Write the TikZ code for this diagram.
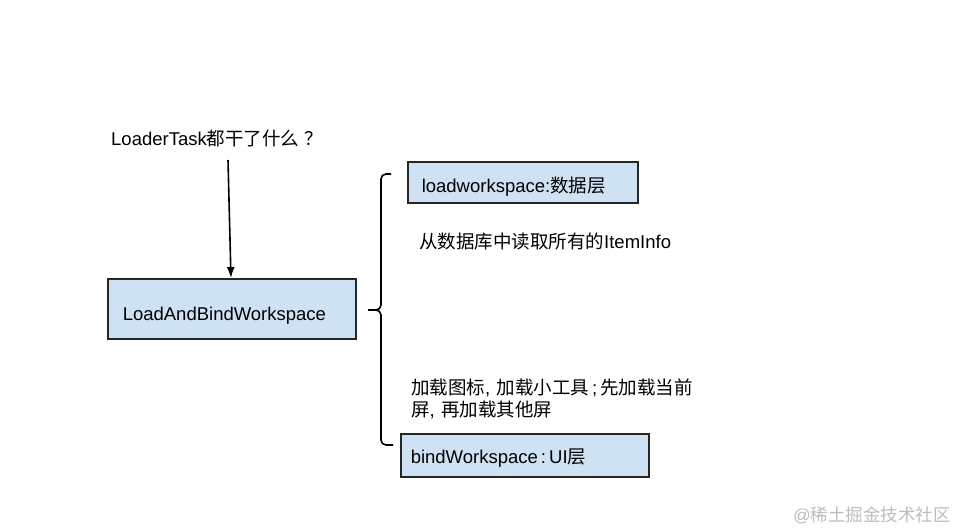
\documentclass[tikz,border=0pt]{standalone}
\usepackage{fontspec}
\setmainfont{Liberation Sans}
\newfontfamily\cjkfont{Noto Sans CJK SC}
\usetikzlibrary{arrows.meta}
\definecolor{boxblue}{HTML}{CFE2F3}
\definecolor{markgray}{HTML}{BDBDBD}
\newcommand{\zh}[1]{{\cjkfont #1}}

\begin{document}
\begin{tikzpicture}[x=1pt,y=-1pt, font=\fontsize{18.5}{22}\selectfont,
  txt/.style={inner sep=0pt,anchor=base west},
  box/.style={draw=black!85,line width=1.5pt,fill=boxblue,align=left,anchor=north west,inner ysep=0pt,text depth=0pt},
  brace/.style={line width=1.6pt,rounded corners=5pt},
  >={Latex[length=11pt,width=8pt]}]
\useasboundingbox[fill=white] (0,0) rectangle (959,531);
% question and the task box
\node[txt] (q) at (111,145) {LoaderTask\zh{都干了什么}\hspace{5pt}\zh{？}};
\node[box,inner xsep=15pt,text width=218pt,minimum height=60pt,text height=23pt] (lbw) at (107,278) {LoadAndBindWorkspace};
\coordinate (qa) at (228,160);
\draw[->,line width=1.6pt] (qa) -- (lbw);
% the two parts
\node[box,inner xsep=14pt,text width=202pt,minimum height=41pt,text height=21pt] (load) at (407,161) {loadworkspace:\zh{数据层}};
\node[txt] (loadtxt) at (419,248) {\zh{从数据库中读取所有的}ItemInfo};
\node[txt,text width=320pt,align=left] (bindtxt) at (411,394) {\zh{加载图标}, \zh{加载小工具}\,;\,\zh{先加载当前}\\\zh{屏}, \zh{再加载其他屏}};
\node[box,inner xsep=10pt,text width=228pt,minimum height=43pt,text height=17pt] (bind) at (400,433) {bindWorkspace\,:\,UI\zh{层}};
% brace
\coordinate (bt) at (391,174);
\coordinate (bm) at (368,310);
\coordinate (bb) at (393,445);
\draw[brace] (bt) -| (381,310) -- (bm);
\draw[brace] (bb) -| (381,310) -- (bm);
\node[txt,text=markgray,font=\fontsize{17.5}{20}\selectfont] (mark) at (793,521) {@\zh{稀土掘金技术社区}};
\end{tikzpicture}
\end{document}
